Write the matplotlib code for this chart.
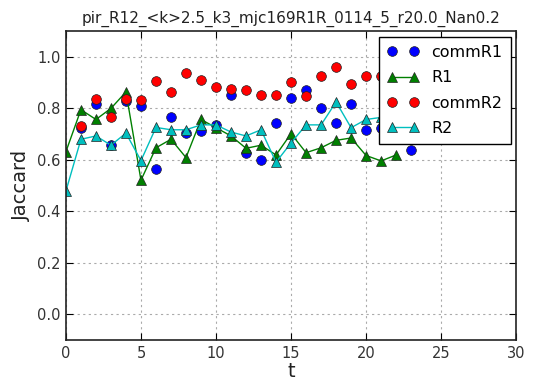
import matplotlib
matplotlib.use("Agg")
import matplotlib.pyplot as plt

title = "pir_R12_<k>2.5_k3_mjc169R1R_0114_5_r20.0_Nan0.2"

t_comm1 = [1, 2, 3, 4, 5, 6, 7, 8, 9, 10, 11, 12, 13, 14, 15, 16, 17, 18, 19, 20, 21, 22, 23]
commR1 = [0.725, 0.817, 0.657, 0.829, 0.81, 0.564, 0.768, 0.706, 0.712, 0.734, 0.852, 0.628,
          0.60, 0.744, 0.842, 0.87, 0.80, 0.744, 0.817, 0.717, 0.725, 0.72, 0.64]

t_r1 = list(range(0, 23))
R1 = [0.632, 0.795, 0.757, 0.80, 0.864, 0.521, 0.647, 0.68, 0.609, 0.757, 0.725, 0.693,
      0.645, 0.657, 0.619, 0.702, 0.628, 0.647, 0.676, 0.685, 0.617, 0.596, 0.619]

t_comm2 = [1, 2, 3, 4, 5, 6, 7, 8, 9, 10, 11, 12, 13, 14, 15, 16, 17, 18, 19, 20, 21, 22]
commR2 = [0.731, 0.838, 0.768, 0.838, 0.833, 0.906, 0.864, 0.938, 0.91, 0.883, 0.874, 0.871,
          0.853, 0.853, 0.902, 0.848, 0.927, 0.96, 0.896, 0.927, 0.926, 0.93]

t_r2 = list(range(0, 23))
R2 = [0.479, 0.68, 0.693, 0.657, 0.704, 0.597, 0.726, 0.717, 0.717, 0.736, 0.736, 0.708,
      0.693, 0.717, 0.591, 0.666, 0.736, 0.736, 0.825, 0.725, 0.757, 0.765, 0.76]

plt.rcParams['font.family'] = ['DejaVu Sans']
fig = plt.figure(figsize=(5.36, 3.80), dpi=100)
ax = fig.add_axes([0.123, 0.105, 0.84, 0.813])

mk = dict(markersize=7, markeredgecolor='#222222', markeredgewidth=0.5)
ax.plot(t_comm1, commR1, 'o', color='blue', linestyle='none', label='commR1', **mk)
ax.plot(t_r1, R1, '^-', color='green', label='R1', linewidth=1, **mk)
ax.plot(t_comm2, commR2, 'o', color='red', linestyle='none', label='commR2', **mk)
ax.plot(t_r2, R2, '^-', color='#00bfbf', label='R2', linewidth=1, **mk)

ax.set_xlim(0, 30)
ax.set_ylim(-0.1, 1.1)
ax.set_xticks([0, 5, 10, 15, 20, 25, 30])
ax.set_yticks([0.0, 0.2, 0.4, 0.6, 0.8, 1.0])
ax.grid(True, linestyle=(0, (2, 3)), color='#aaaaaa', linewidth=0.8)
ax.tick_params(direction='in', top=True, right=True, labelsize=10.5, labelcolor='#333333',
               color='black', length=5, pad=4)
for s in ax.spines.values():
    s.set_linewidth(1.2)
    s.set_color('#222222')

ax.set_title(title, fontsize=11, color='#222222')
ax.set_xlabel('t', fontsize=14, color='#222222', labelpad=1)
ax.set_ylabel('Jaccard', fontsize=14, color='#222222')

leg = ax.legend(loc='upper right', numpoints=2, fancybox=False, framealpha=1,
                edgecolor='black', fontsize=11.5, borderaxespad=0.35, handlelength=2.0,
                handletextpad=0.8, borderpad=0.5, labelspacing=0.65)
leg.get_frame().set_linewidth(1.0)

fig.savefig('out.png', dpi=100)
